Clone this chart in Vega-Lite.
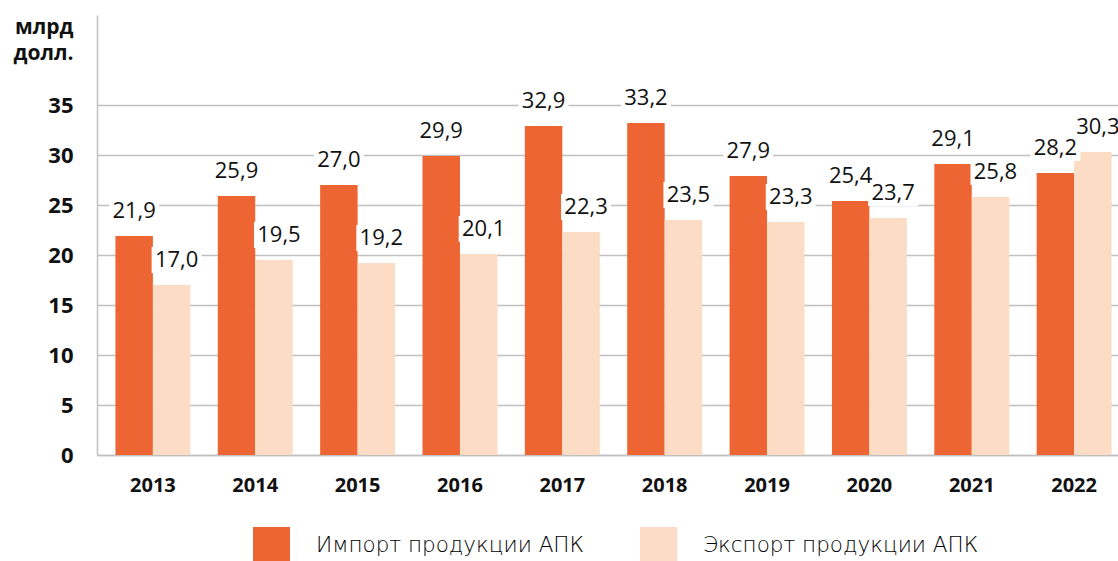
{
  "$schema": "https://vega.github.io/schema/vega-lite/v6.json",
  "autosize": "none",
  "padding": {"left": 97, "top": 15, "right": 0, "bottom": 106},
  "width": 1033,
  "height": 440,
  "background": "white",
  "config": {
    "view": {"stroke": null},
    "locale": {"number": {"decimal": ",", "thousands": " ", "grouping": [3], "currency": ["", ""]}},
    "font": "Open Sans"
  },
  "data": {
    "values": [
      {"year": "2013", "series": "Импорт продукции АПК", "value": 21.9},
      {"year": "2014", "series": "Импорт продукции АПК", "value": 25.9},
      {"year": "2015", "series": "Импорт продукции АПК", "value": 27.0},
      {"year": "2016", "series": "Импорт продукции АПК", "value": 29.9},
      {"year": "2017", "series": "Импорт продукции АПК", "value": 32.9},
      {"year": "2018", "series": "Импорт продукции АПК", "value": 33.2},
      {"year": "2019", "series": "Импорт продукции АПК", "value": 27.9},
      {"year": "2020", "series": "Импорт продукции АПК", "value": 25.4},
      {"year": "2021", "series": "Импорт продукции АПК", "value": 29.1},
      {"year": "2022", "series": "Импорт продукции АПК", "value": 28.2},
      {"year": "2013", "series": "Экспорт продукции АПК", "value": 17.0},
      {"year": "2014", "series": "Экспорт продукции АПК", "value": 19.5},
      {"year": "2015", "series": "Экспорт продукции АПК", "value": 19.2},
      {"year": "2016", "series": "Экспорт продукции АПК", "value": 20.1},
      {"year": "2017", "series": "Экспорт продукции АПК", "value": 22.3},
      {"year": "2018", "series": "Экспорт продукции АПК", "value": 23.5},
      {"year": "2019", "series": "Экспорт продукции АПК", "value": 23.3},
      {"year": "2020", "series": "Экспорт продукции АПК", "value": 23.7},
      {"year": "2021", "series": "Экспорт продукции АПК", "value": 25.8},
      {"year": "2022", "series": "Экспорт продукции АПК", "value": 30.3}
    ]
  },
  "encoding": {
    "x": {
      "field": "year", "type": "nominal",
      "scale": {"paddingInner": 0.268, "paddingOuter": 0.18},
      "axis": {
        "title": null, "labelAngle": 0, "ticks": false, "tickSize": 0,
        "labelPadding": 36, "labelBaseline": "alphabetic",
        "labelFont": "Open Sans", "labelFontWeight": "bold", "labelFontSize": 20, "labelColor": "#111111",
        "domainColor": "#c0c0c0", "domainWidth": 1.5, "grid": false
      }
    },
    "xOffset": {"field": "series", "type": "nominal", "scale": {"paddingInner": 0, "paddingOuter": 0}},
    "y": {
      "field": "value", "type": "quantitative",
      "scale": {"domain": [0, 44], "nice": false},
      "axis": {
        "values": [0, 5, 10, 15, 20, 25, 30, 35],
        "title": ["млрд", "долл."],
        "titleAngle": 0, "titleAlign": "right", "titleBaseline": "alphabetic",
        "titleX": -24, "titleY": 18, "titleLineHeight": 26,
        "titleFont": "Open Sans", "titleFontWeight": "bold", "titleFontSize": 21, "titleColor": "#111111",
        "ticks": false, "tickSize": 0, "labelPadding": 24,
        "labelFont": "Open Sans", "labelFontWeight": "bold", "labelFontSize": 22, "labelColor": "#111111",
        "domainColor": "#c0c0c0", "domainWidth": 1.5,
        "gridColor": "#c0c0c0", "gridWidth": 1.5
      }
    }
  },
  "layer": [
    {
      "mark": {"type": "bar"},
      "encoding": {
        "color": {
          "field": "series", "type": "nominal",
          "scale": {"domain": ["Импорт продукции АПК", "Экспорт продукции АПК"], "range": ["#EC6532", "#FCDCC4"]},
          "legend": {
            "title": null, "orient": "none", "legendX": 156, "legendY": 512,
            "direction": "horizontal", "padding": 0,
            "symbolType": "square", "symbolSize": 1369, "symbolStrokeWidth": 0,
            "labelFont": "DejaVu Sans", "labelFontWeight": 300, "labelFontSize": 21.5, "labelColor": "#000000",
            "labelOffset": 26, "columnPadding": 55, "labelLimit": 500
          }
        }
      }
    },
    {
      "transform": [{"filter": "datum.series === 'Импорт продукции АПК'"}],
      "mark": {"type": "point", "shape": "M-1,-0.52H1V0.52H-1Z", "filled": true, "color": "white", "opacity": 1, "size": 2500, "yOffset": -25}
    },
    {
      "transform": [{"filter": "datum.series === 'Экспорт продукции АПК'"}],
      "mark": {"type": "point", "shape": "M-0.8,-0.52H1.2V0.52H-0.8Z", "filled": true, "color": "white", "opacity": 1, "size": 2500, "yOffset": -25}
    },
    {
      "transform": [{"filter": "datum.series === 'Импорт продукции АПК'"}],
      "mark": {"type": "text", "font": "Open Sans", "fontSize": 22, "color": "#111111", "baseline": "middle", "dy": -25},
      "encoding": {"text": {"field": "value", "type": "quantitative", "format": ".1f"}}
    },
    {
      "transform": [{"filter": "datum.series === 'Экспорт продукции АПК'"}],
      "mark": {"type": "text", "font": "Open Sans", "fontSize": 22, "color": "#111111", "baseline": "middle", "dy": -25, "dx": 5},
      "encoding": {"text": {"field": "value", "type": "quantitative", "format": ".1f"}}
    }
  ]
}
